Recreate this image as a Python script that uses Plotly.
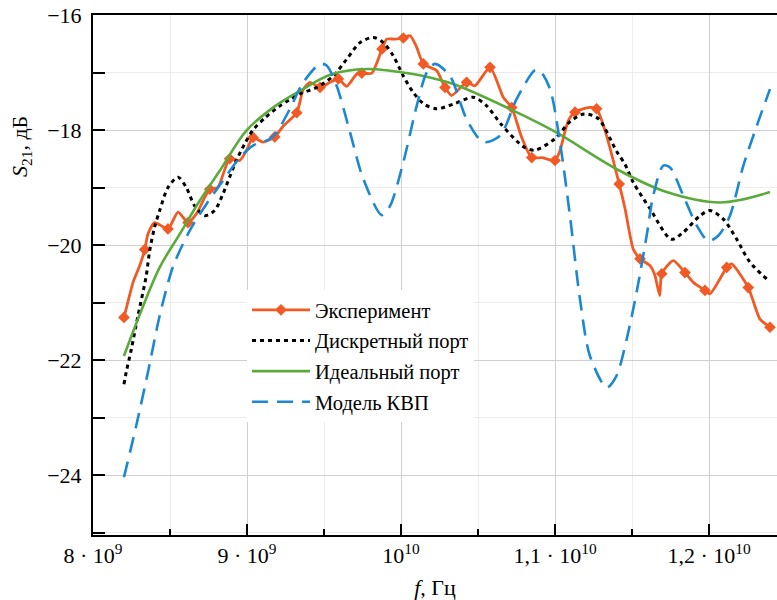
import plotly.graph_objects as go

# ---------------- data (frequency in GHz, S21 in dB) ----------------
exp_f = [8.201, 8.223, 8.26, 8.303, 8.336, 8.357, 8.40, 8.487, 8.552, 8.617,
         8.671, 8.758, 8.81, 8.887, 8.953, 8.996, 9.039, 9.104, 9.18, 9.236,
         9.323, 9.366, 9.409, 9.474, 9.539, 9.593, 9.647, 9.712, 9.745, 9.81,
         9.877, 9.907, 9.96, 10.015, 10.06, 10.10, 10.145, 10.232, 10.286, 10.329,
         10.426, 10.48, 10.578, 10.664, 10.719, 10.784, 10.849, 10.914, 11.0, 11.032,
         11.086, 11.13, 11.216, 11.27, 11.325, 11.417, 11.455, 11.508, 11.552, 11.617,
         11.649, 11.68, 11.693, 11.768, 11.844, 11.898, 11.974, 12.006, 12.071, 12.115,
         12.147, 12.255, 12.331, 12.396]
exp_v = [-21.26, -21.03, -20.65, -20.36, -20.08, -19.81, -19.61, -19.72, -19.43, -19.61,
         -19.46, -19.03, -19.00, -18.50, -18.53, -18.36, -18.13, -18.21, -18.12, -17.93,
         -17.70, -17.29, -17.17, -17.26, -17.17, -17.11, -17.24, -17.03, -17.01, -17.01,
         -16.59, -16.42, -16.42, -16.40, -16.36, -16.55, -16.85, -16.97, -17.26, -17.40,
         -17.17, -17.23, -16.91, -17.43, -17.61, -18.13, -18.48, -18.48, -18.53, -18.36,
         -17.84, -17.69, -17.61, -17.63, -18.01, -18.94, -19.37, -20.07, -20.24, -20.36,
         -20.53, -20.88, -20.50, -20.27, -20.48, -20.65, -20.79, -20.85, -20.59, -20.39,
         -20.33, -20.74, -21.29, -21.43]
exp_marker_idx = [0, 4, 7, 9, 11, 13, 16, 18, 20, 23, 25, 28, 30, 33, 36, 38, 40,
                  42, 44, 46, 48, 51, 53, 55, 58, 62, 64, 66, 69, 71, 73]

disc_f = [8.201, 8.216, 8.249, 8.292, 8.346, 8.368, 8.40, 8.433, 8.487, 8.552,
          8.606, 8.66, 8.725, 8.79, 8.844, 8.887, 8.931, 8.985, 9.039, 9.12,
          9.214, 9.279, 9.344, 9.453, 9.56, 9.647, 9.734, 9.82, 9.885, 9.95,
          10.015, 10.08, 10.15, 10.232, 10.34, 10.47, 10.556, 10.65, 10.80, 10.87,
          11.0, 11.10, 11.19, 11.28, 11.40, 11.455, 11.508, 11.617, 11.755, 11.833,
          11.942, 12.006, 12.093, 12.18, 12.266, 12.375]
disc_v = [-22.42, -22.21, -21.81, -21.23, -20.53, -20.10, -19.69, -19.40, -19.00, -18.82,
          -19.00, -19.32, -19.49, -19.40, -19.11, -18.82, -18.53, -18.24, -18.00, -17.78,
          -17.58, -17.47, -17.37, -17.26, -17.06, -16.77, -16.48, -16.39, -16.48, -16.71,
          -17.06, -17.35, -17.55, -17.63, -17.55, -17.43, -17.58, -17.90, -18.30, -18.35,
          -18.15, -17.85, -17.72, -17.80, -18.37, -18.60, -18.91, -19.37, -19.90, -19.78,
          -19.49, -19.40, -19.55, -19.90, -20.30, -20.59]

ideal_f = [8.201, 8.314, 8.433, 8.563, 8.693, 8.823, 8.996, 9.169, 9.344, 9.55,
           9.78, 9.929, 10.145, 10.34, 10.719, 11.0, 11.40, 11.725, 12.071, 12.396]
ideal_v = [-21.93, -21.14, -20.39, -19.81, -19.23, -18.71, -18.01, -17.61, -17.32, -17.03,
           -16.94, -16.97, -17.06, -17.20, -17.65, -18.03, -18.68, -19.08, -19.26, -19.08]

kvp_f = [8.201, 8.281, 8.357, 8.433, 8.519, 8.628, 8.736, 8.844, 8.953, 9.039,
         9.147, 9.193, 9.279, 9.366, 9.474, 9.517, 9.582, 9.669, 9.755, 9.875,
         9.929, 10.015, 10.102, 10.167, 10.22, 10.318, 10.426, 10.534, 10.643, 10.751,
         10.87, 10.903, 10.968, 11.032, 11.097, 11.162, 11.227, 11.336, 11.40, 11.466,
         11.53, 11.595, 11.638, 11.703, 11.747, 11.833, 11.92, 11.995, 12.06, 12.136,
         12.223, 12.31, 12.396]
kvp_v = [-24.04, -23.14, -22.21, -21.23, -20.38, -19.75, -19.29, -18.88, -18.48, -18.27,
         -18.16, -18.04, -17.63, -17.17, -16.85, -16.88, -17.23, -18.04, -18.85, -19.48,
         -19.32, -18.56, -17.58, -17.00, -16.85, -17.06, -17.81, -18.21, -18.10, -17.46,
         -16.96, -16.97, -17.29, -18.21, -19.49, -20.94, -21.93, -22.48, -22.27, -21.63,
         -20.82, -19.84, -19.14, -18.62, -18.65, -19.14, -19.66, -19.93, -19.84, -19.49,
         -18.62, -17.93, -17.29]

series_names = ["Эксперимент", "Дискретный порт", "Идеальный порт", "Модель КВП"]

x_tick_vals_ghz = [8, 9, 10, 11, 12]
x_tick_text = ["8 · 10<sup>9</sup>", "9 · 10<sup>9</sup>", "10<sup>10</sup>",
               "1,1 · 10<sup>10</sup>", "1,2 · 10<sup>10</sup>"]
y_tick_vals = [-24, -22, -20, -18, -16]
y_tick_text = ["−24", "−22", "−20", "−18", "−16"]

# ---------------- styles ----------------
C_EXP = "#f15a24"
C_DISC = "#000000"
C_IDEAL = "#5aab3c"
C_KVP = "#1d88d2"
FONT = "Liberation Serif, DejaVu Serif, serif"

G = 1e9
hz = lambda arr: [v * G for v in arr]

fig = go.Figure()

# Experiment: line
fig.add_trace(go.Scatter(x=hz(exp_f), y=exp_v, mode="lines",
                         line=dict(color=C_EXP, width=2.8, shape="spline", smoothing=0.6),
                         showlegend=False, legendgroup="exp", hoverinfo="skip"))
# Experiment: markers
fig.add_trace(go.Scatter(x=[exp_f[i] * G for i in exp_marker_idx],
                         y=[exp_v[i] for i in exp_marker_idx], mode="markers",
                         marker=dict(symbol="diamond", size=9, color=C_EXP),
                         showlegend=False, legendgroup="exp"))
# Experiment: legend entry
fig.add_trace(go.Scatter(x=[None], y=[None], mode="lines+markers", name=series_names[0],
                         line=dict(color=C_EXP, width=2.8),
                         marker=dict(symbol="diamond", size=9, color=C_EXP),
                         legendgroup="exp"))

fig.add_trace(go.Scatter(x=hz(disc_f), y=disc_v, mode="lines", name=series_names[1],
                         line=dict(color=C_DISC, width=3, dash="4px,4px", shape="spline", smoothing=0.8),
                         legendgroup="disc"))
fig.add_trace(go.Scatter(x=hz(ideal_f), y=ideal_v, mode="lines", name=series_names[2],
                         line=dict(color=C_IDEAL, width=2.6, shape="spline", smoothing=1.0),
                         legendgroup="ideal"))
fig.add_trace(go.Scatter(x=hz(kvp_f), y=kvp_v, mode="lines", name=series_names[3],
                         line=dict(color=C_KVP, width=2.6, dash="16px,9px", shape="spline", smoothing=0.8),
                         legendgroup="kvp"))

W, H = 777, 600
L, R, T, B = 93, 0, 15, 65
px_per_ghz = 154.0
x_max = 8 + (W - L - R) / px_per_ghz
px_per_db = 57.5
y_min = -16 - (H - T - B) / px_per_db

fig.update_layout(
    width=W, height=H,
    margin=dict(l=L, r=R, t=T, b=B),
    paper_bgcolor="white", plot_bgcolor="white",
    font=dict(family=FONT, size=20, color="black"),
    legend=dict(x=(247 - L) / (W - L - R), y=(H - B - 290) / (H - T - B),
                xanchor="left", yanchor="top",
                bgcolor="white", borderwidth=0,
                font=dict(family=FONT, size=20.5),
                itemwidth=58,
                traceorder="grouped", tracegroupgap=1),
    xaxis=dict(range=[8 * G, x_max * G],
               tickvals=hz(x_tick_vals_ghz), ticktext=x_tick_text,
               ticks="inside", ticklen=11, tickwidth=1.5, tickcolor="black",
               showline=True, linecolor="black", linewidth=2, mirror=True,
               showgrid=True, gridcolor="#cfcfcf", gridwidth=1.3,
               minor=dict(dtick=0.5 * G, tick0=8 * G, ticks="inside", ticklen=6,
                          tickwidth=1.5, tickcolor="black",
                          showgrid=True, gridcolor="#ececec", gridwidth=1),
               tickfont=dict(family=FONT, size=22),
               title=dict(text="<i>f</i>, Гц", font=dict(family=FONT, size=22), standoff=12),
               zeroline=False),
    yaxis=dict(range=[y_min, -16],
               tickvals=y_tick_vals, ticktext=y_tick_text,
               ticks="inside", ticklen=12, tickwidth=1.5, tickcolor="black",
               ticklabelstandoff=5,
               showline=True, linecolor="black", linewidth=2, mirror=False,
               showgrid=True, gridcolor="#cfcfcf", gridwidth=1.3,
               minor=dict(dtick=1, tick0=-16, ticks="inside", ticklen=12,
                          tickwidth=1.5, tickcolor="black",
                          showgrid=True, gridcolor="#ececec", gridwidth=1),
               tickfont=dict(family=FONT, size=22),
               zeroline=False),
    annotations=[dict(text="<i>S</i><sub>21</sub>, дБ", textangle=-90,
                      xref="paper", yref="paper",
                      x=(21 - L) / (W - L - R), y=(H - B - 147) / (H - T - B),
                      xanchor="center", yanchor="middle", showarrow=False,
                      font=dict(family=FONT, size=22))],
)

fig.write_html("out.html")
